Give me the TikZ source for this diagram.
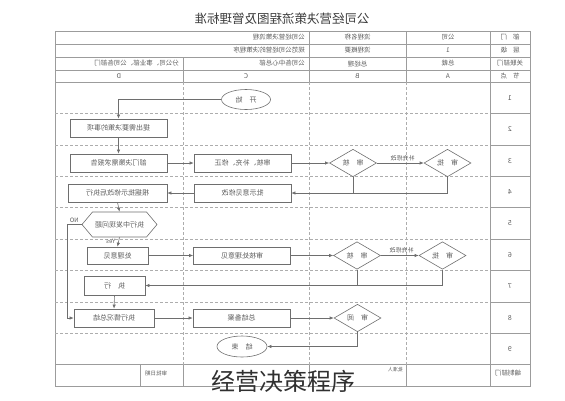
\documentclass[tikz,border=0pt]{standalone}
\usepackage{fontspec}
\usepackage{graphicx}
\usetikzlibrary{shapes.geometric,shapes.symbols,arrows.meta}
\newfontfamily\cjk{Noto Sans CJK SC}
\definecolor{FrameGray}{HTML}{9C9C9C}
\definecolor{BoxGray}{HTML}{6E6E6E}
\definecolor{DashGray}{HTML}{ADADAD}
\definecolor{TextGray}{HTML}{5C5C5C}
\definecolor{TitleInk}{HTML}{3C3C3C}
\definecolor{CaptionInk}{HTML}{303030}
\newcommand{\mirr}[1]{\scalebox{-1}[1]{#1}}

\begin{document}
\begin{tikzpicture}[x=1pt,y=-1pt,
  every node/.style={font=\cjk\fontsize{7}{8}\selectfont, text=TextGray, inner sep=0pt},
  cell/.style={font=\cjk\fontsize{6.5}{7}\selectfont},
  proc/.style={draw=BoxGray, line width=0.7pt, rectangle, minimum height=18pt},
  judge/.style={draw=BoxGray, line width=0.6pt, diamond, minimum width=47pt, minimum height=27pt},
  term/.style={draw=BoxGray, line width=0.6pt, ellipse, minimum width=49pt, minimum height=20pt},
  hexa/.style={draw=BoxGray, line width=0.6pt, signal, signal to=east and west,
    signal pointer angle=100, minimum width=75pt, minimum height=25pt},
  flow/.style={draw=BoxGray, line width=0.6pt, -{Latex[length=4pt,width=3.4pt]}},
  link/.style={draw=BoxGray, line width=0.6pt},
  grid/.style={draw=FrameGray, line width=0.6pt},
  lane/.style={draw=DashGray, line width=0.6pt, dash pattern=on 3pt off 2pt}]
  \useasboundingbox (0,0) rectangle (565,400);

  % table frame
  \draw[grid] (55,31) rectangle (530,386);
  \foreach \y in {44,57,70,82,364.6} {
    \draw[grid] (55,\y) -- (530,\y);
  }
  \foreach \x in {309,406,490} {
    \draw[grid] (\x,31) -- (\x,82);
    \draw[grid] (\x,364.6) -- (\x,386);
  }
  \draw[grid] (183,57) -- (183,82);
  \draw[grid] (140,364.6) -- (140,386);
  \draw[grid] (183,364.6) -- (183,386);
  \draw[grid] (490,82) -- (490,364.6);
  \foreach \x in {183,309,406} {
    \draw[lane] (\x,82) -- (\x,364.6);
  }
  \foreach \k in {1,...,8} {
    \draw[lane] (55,{82+31.4*\k}) -- (490,{82+31.4*\k});
    \draw[grid] (490,{82+31.4*\k}) -- (530,{82+31.4*\k});
  }
  \foreach \k in {1,...,9} {
    \node (num\k) at (510,{82+31.4*\k-15.7}) {\mirr{\k}};
  }

  \node[font=\cjk\fontsize{12.5}{14}\selectfont, text=TitleInk] (title) at (282,19) {\mirr{公司经营决策流程图及管理标准}};

  \node[cell] (hdDept) at (510,37.5) {\mirr{部\hspace{6pt}门}};
  \node[cell] (hdCorp) at (448,37.5) {\mirr{公司}};
  \node[cell] (hdName) at (357.5,37.5) {\mirr{流程名称}};
  \node[cell, anchor=east] (hdNameV) at (305,37.5) {\mirr{公司经营决策流程}};
  \node[cell] (hdLevel) at (510,50.5) {\mirr{层\hspace{6pt}级}};
  \node[cell] (hdOne) at (448,50.5) {\mirr{1}};
  \node[cell] (hdBrief) at (357.5,50.5) {\mirr{流程概要}};
  \node[cell, anchor=east] (hdBriefV) at (305,50.5) {\mirr{规范公司经营的决策程序}};
  \node[cell] (hdRel) at (510,63.5) {\mirr{关联部门}};
  \node[cell] (hdPres) at (448,63.5) {\mirr{总裁}};
  \node[cell] (hdGM) at (357.5,63.5) {\mirr{总经理}};
  \node[cell, anchor=east] (hdCenter) at (305,63.5) {\mirr{公司各中心总部}};
  \node[cell, anchor=east] (hdBranch) at (179,63.5) {\mirr{分公司、事业部、公司各部门}};
  \node[cell] (hdNode) at (510,76) {\mirr{节\hspace{6pt}点}};
  \node[cell] (laneA) at (448,76) {\mirr{A}};
  \node[cell] (laneB) at (357.5,76) {\mirr{B}};
  \node[cell] (laneC) at (246,76) {\mirr{C}};
  \node[cell] (laneD) at (119,76) {\mirr{D}};

  \node[term] (start) at (246,99.5) {\mirr{开\hspace{7pt}始}};
  \node[proc, minimum width=97pt] (raise) at (118.5,128) {\mirr{提出需要决策的事项}};
  \node[proc, minimum width=97pt] (report) at (118.5,163) {\mirr{部门决策需求报告}};
  \node[proc, minimum width=97pt] (revise) at (242.5,163) {\mirr{审核、补充、修正}};
  \node[judge] (checkB) at (353,163) {\mirr{审\hspace{7pt}核}};
  \node[judge] (approveA) at (447.5,163) {\mirr{审\hspace{7pt}批}};
  \node[proc, minimum width=97pt] (comment) at (242.5,193) {\mirr{批示意见修改}};
  \node[proc, minimum width=99pt] (perfect) at (117.5,193) {\mirr{根据批示修改后执行}};
  \node[hexa] (issue) at (119.5,224.5) {\mirr{执行中发现问题}};
  \coordinate (noTurn) at (67,224.5);
  \node[proc, minimum width=61pt, minimum height=17pt] (opinion) at (117.5,255.5) {\mirr{处理意见}};
  \node[proc, minimum width=97pt, minimum height=17pt] (review) at (242,255.5) {\mirr{审核处理意见}};
  \node[judge] (checkB2) at (357,255.5) {\mirr{审\hspace{7pt}核}};
  \node[judge] (approveA2) at (442.5,255.5) {\mirr{审\hspace{7pt}批}};
  \node[proc, minimum width=61pt, minimum height=19pt] (execute) at (114.5,285.5) {\mirr{执\hspace{7pt}行}};
  \node[proc, minimum width=80pt] (summary) at (114,318) {\mirr{执行情况总结}};
  \node[proc, minimum width=97pt] (archive) at (241.5,318) {\mirr{总结备案}};
  \node[judge] (decideB) at (357.5,318) {\mirr{审\hspace{7pt}阅}};
  \node[term, minimum width=50pt, minimum height=21pt] (finish) at (242,346.5) {\mirr{结\hspace{7pt}束}};

  \draw[flow] (start.west) -| (raise.north);
  \draw[flow] (raise.south) -- (report.north);
  \draw[flow] (report.east) -- (revise.west);
  \draw[flow] (revise.east) -- (checkB.west);
  \draw[flow] (checkB.east) -- node[above=2pt, pos=0.55, font=\cjk\fontsize{6}{7}\selectfont] (addB) {\mirr{补充修改}} (approveA.west);
  \draw[flow] (approveA.south) |- (comment.east);
  \draw[link] (checkB.south) -- (checkB.south |- comment.east);
  \draw[flow] (comment.west) -- (perfect.east);
  \draw[flow] (perfect.south) -- (issue.north);
  \draw[flow] (issue.south) -- node[left=3pt, pos=0.45, font=\cjk\fontsize{6}{7}\selectfont] (yes) {\mirr{Yes}} (opinion.north);
  \draw[flow] (issue.west) -- node[above=2pt, font=\cjk\fontsize{6}{7}\selectfont] (no) {\mirr{NO}} (noTurn) |- (summary.west);
  \draw[flow] (opinion.east) -- (review.west);
  \draw[flow] (review.east) -- (checkB2.west);
  \draw[flow] (checkB2.east) -- node[above=2pt, pos=0.55, font=\cjk\fontsize{6}{7}\selectfont] (addB2) {\mirr{补充修改}} (approveA2.west);
  \draw[flow] (approveA2.south) |- (execute.east);
  \draw[link] (checkB2.south) -- (checkB2.south |- execute.east);
  \draw[flow] (execute.south) -- (summary.north);
  \draw[flow] (summary.east) -- (archive.west);
  \draw[flow] (archive.east) -- (decideB.west);
  \draw[flow] (decideB.south) |- (finish.east);

  \node[font=\cjk\fontsize{5.5}{6}\selectfont] (ftDate) at (156,373) {\mirr{审批日期}};
  \node[font=\cjk\fontsize{5}{6}\selectfont, anchor=north east] (ftSign) at (403,367.5) {\mirr{批准人}};
  \node[cell] (ftDept) at (508,373) {\mirr{编制部门}};
  \node[font=\cjk\fontsize{24}{26}\selectfont, text=CaptionInk] (caption) at (283,381) {经营决策程序};
\end{tikzpicture}
\end{document}
